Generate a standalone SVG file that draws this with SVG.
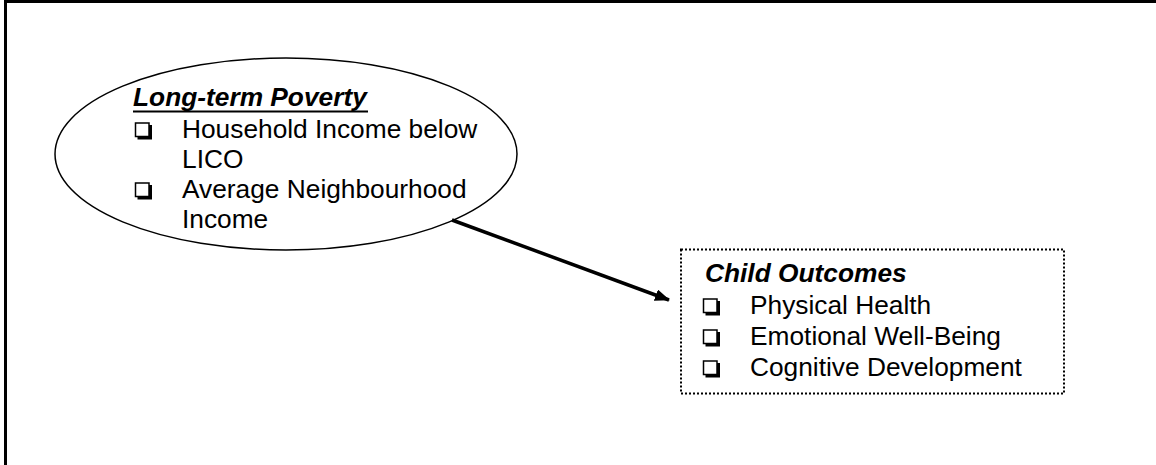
<svg xmlns="http://www.w3.org/2000/svg" width="1156" height="465" viewBox="0 0 1156 465">
<style>
text{font-family:"Liberation Sans",Arial,sans-serif;font-size:26.3px;fill:#000}
.h{font-weight:bold;font-style:italic}
.cb{fill:#fff;stroke:#000;stroke-width:1.5}
.sh{fill:none;stroke:#000;stroke-width:3}
</style>
<defs>
<g id="box">
<path class="sh" d="M2,15 H15 V2"/>
<rect class="cb" x="0" y="0" width="13.5" height="13.5"/>
</g>
<marker id="ah" markerWidth="15" markerHeight="12" refX="14" refY="6" orient="auto" markerUnits="userSpaceOnUse">
<path d="M0,0 L15,6 L0,12 Z" fill="#000"/>
</marker>
</defs>
<rect width="1156" height="465" fill="#fff"/>
<path d="M5.5,465 V1.5 H1156" fill="none" stroke="#000" stroke-width="3"/>
<g id="poverty">
<ellipse cx="286" cy="154" rx="231" ry="96" fill="#fff" stroke="#000" stroke-width="1.5"/>
<text class="h" x="133" y="106">Long-term Poverty</text>
<line x1="133" y1="111.5" x2="368" y2="111.5" stroke="#000" stroke-width="2"/>
<use href="#box" x="135.5" y="123"/>
<text x="182" y="138">Household Income below</text>
<text x="182" y="168">LICO</text>
<use href="#box" x="135.5" y="183"/>
<text x="182" y="198">Average Neighbourhood</text>
<text x="182" y="228">Income</text>
</g>
<g id="connectors">
<line x1="452" y1="220" x2="669" y2="300" stroke="#000" stroke-width="3.5" marker-end="url(#ah)"/>
</g>
<g id="outcomes">
<rect x="681" y="249.5" width="383" height="144" fill="#fff" stroke="#000" stroke-width="2" stroke-dasharray="2,2"/>
<text class="h" x="705" y="282">Child Outcomes</text>
<use href="#box" x="703.5" y="299"/>
<text x="750" y="314">Physical Health</text>
<use href="#box" x="703.5" y="330"/>
<text x="750" y="345">Emotional Well-Being</text>
<use href="#box" x="703.5" y="361"/>
<text x="750" y="376">Cognitive Development</text>
</g>
</svg>
